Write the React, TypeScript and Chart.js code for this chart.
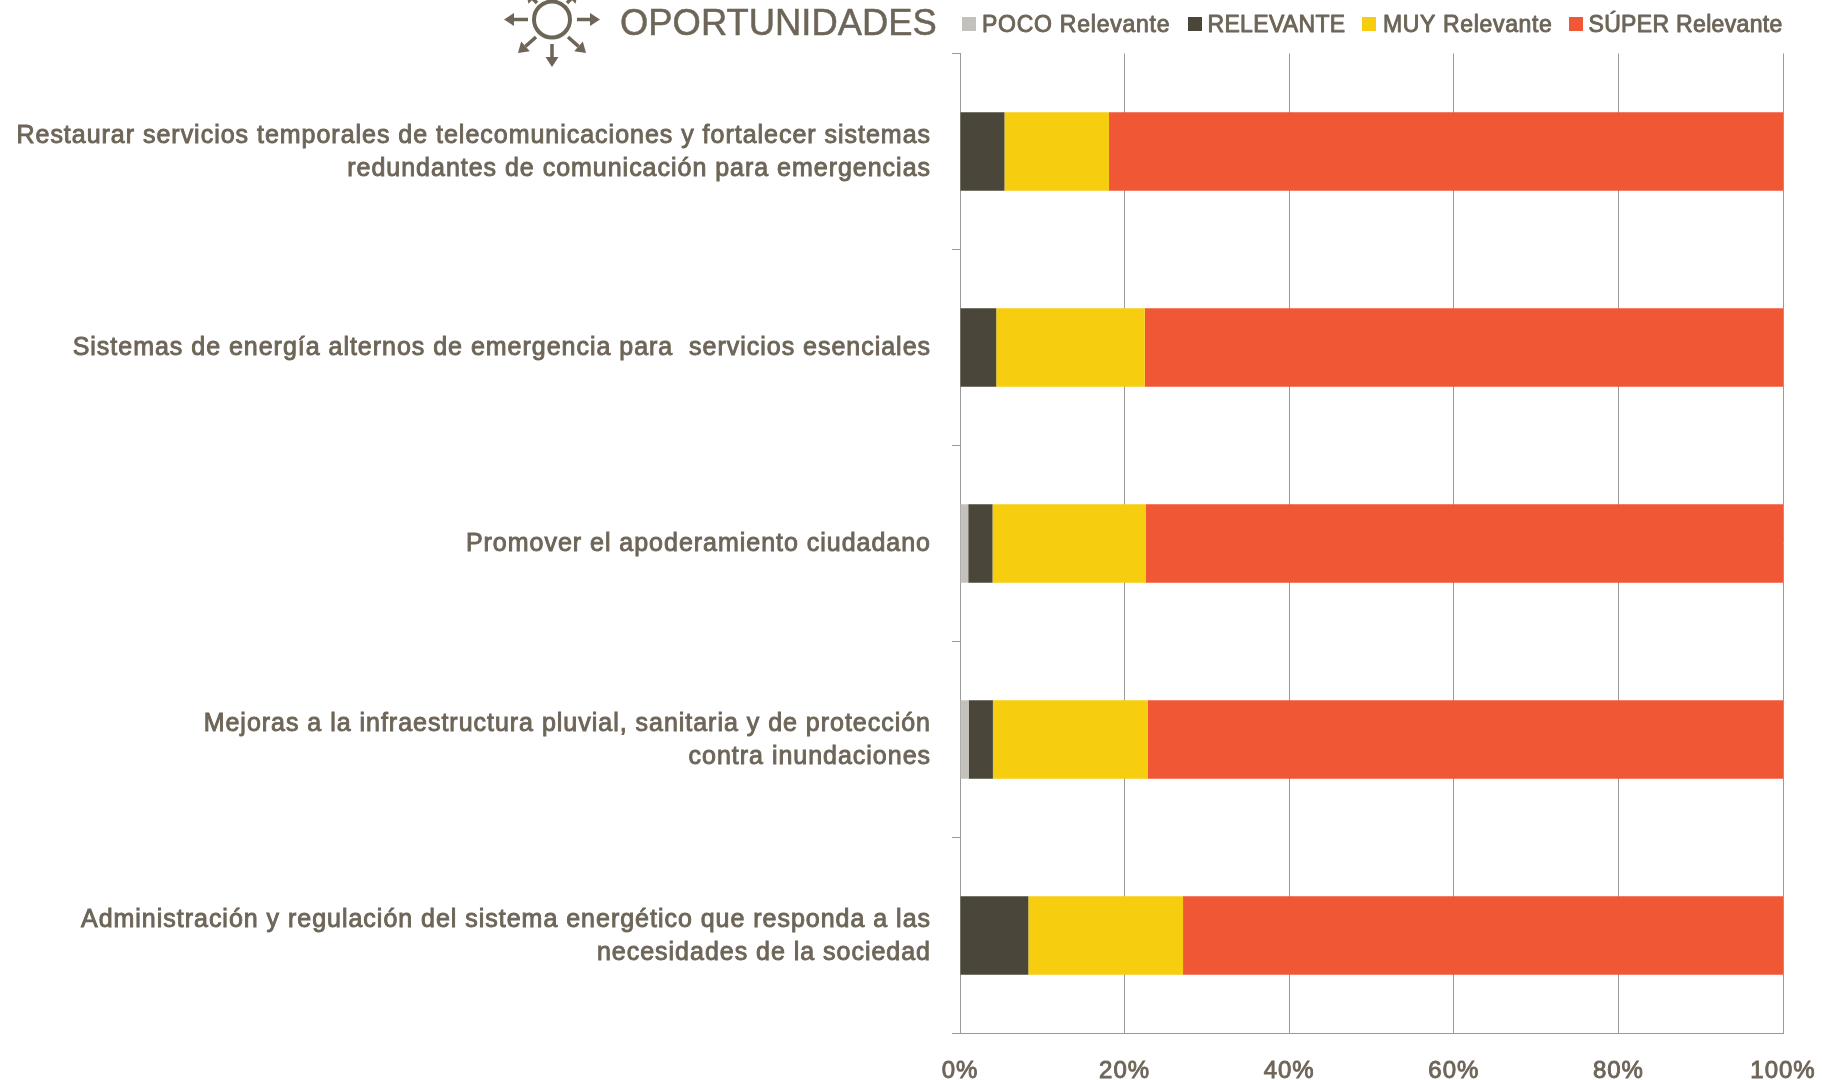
import React, { useEffect, useRef } from "react";
import { Chart, registerables } from "chart.js";

Chart.register(...registerables);

const categories = [
  ["Restaurar servicios temporales de telecomunicaciones y fortalecer sistemas", "redundantes de comunicación para emergencias"],
  ["Sistemas de energía alternos de emergencia para  servicios esenciales"],
  ["Promover el apoderamiento ciudadano"],
  ["Mejoras a la infraestructura pluvial, sanitaria y de protección", "contra inundaciones"],
  ["Administración y regulación del sistema energético que responda a las", "necesidades de la sociedad"],
];
const poco = [0, 0, 1.0, 1.05, 0];
const relevante = [5.4, 4.4, 2.95, 2.95, 8.3];
const muy = [12.7, 18.05, 18.6, 18.8, 18.8];
const super_ = [81.9, 77.55, 77.45, 77.2, 72.9];
const xTicks = [0, 20, 40, 60, 80, 100];
const seriesLabels = ["POCO Relevante", "RELEVANTE", "MUY Relevante", "SÚPER Relevante"];
const seriesColors = ["#c4c1bc", "#4a4639", "#f6cd0f", "#f05735"];
const titleText = "OPORTUNIDADES";

const TEXT = "#6d6558";
const GRID = "#9a9a9a";
const FONT = "'Liberation Sans'";

const legendBoxX = [962, 1188, 1362, 1569];
const legendTextX = [982, 1207.5, 1383, 1588.5];
const legendSpacing = [0.75, 0.33, 0.65, 0.33];

function arrow(ctx: CanvasRenderingContext2D, x0: number, y0: number, x1: number, y1: number) {
  const a = Math.atan2(y1 - y0, x1 - x0);
  const len = 10, w = 6.5;
  const bx = x1 - Math.cos(a) * len, by = y1 - Math.sin(a) * len;
  ctx.beginPath();
  ctx.moveTo(x0, y0);
  ctx.lineTo(bx, by);
  ctx.stroke();
  ctx.beginPath();
  ctx.moveTo(x1, y1);
  ctx.lineTo(bx - Math.sin(a) * w, by + Math.cos(a) * w);
  ctx.lineTo(bx + Math.sin(a) * w, by - Math.cos(a) * w);
  ctx.closePath();
  ctx.fill();
}

const spacingPlugin = {
  id: "spacing",
  beforeDraw(chart: any) {
    chart.ctx.letterSpacing = "0.98px";
  },
};

const headerPlugin = {
  id: "header",
  afterDraw(chart: any) {
    const ctx: CanvasRenderingContext2D = chart.ctx;
    ctx.save();
    ctx.letterSpacing = "0px";
    ctx.fillStyle = TEXT;
    ctx.strokeStyle = TEXT;
    ctx.textBaseline = "middle";
    ctx.textAlign = "left";
    ctx.lineJoin = "round";
    ctx.font = `36.4px ${FONT}`;
    ctx.lineWidth = 0.5;
    ctx.fillText(titleText, 620, 24.5);
    ctx.strokeText(titleText, 620, 24.5);

    ctx.lineWidth = 4;
    ctx.beginPath();
    ctx.arc(552, 19.5, 18, 0, Math.PI * 2);
    ctx.stroke();
    ctx.lineWidth = 3.5;
    arrow(ctx, 528, 19.5, 504, 19.5);
    arrow(ctx, 577, 19.5, 600, 19.5);
    arrow(ctx, 552, 44, 552, 67);
    arrow(ctx, 536, 37, 518, 53);
    arrow(ctx, 568, 37, 586, 53);
    arrow(ctx, 537, 3, 526, -8);
    arrow(ctx, 567, 3, 578, -8);

    ctx.font = `23px ${FONT}`;
    ctx.lineWidth = 0.9;
    seriesLabels.forEach((label, i) => {
      ctx.letterSpacing = `${legendSpacing[i]}px`;
      ctx.fillStyle = seriesColors[i];
      ctx.fillRect(legendBoxX[i], 17, 14, 14);
      ctx.fillStyle = TEXT;
      ctx.fillText(label, legendTextX[i], 26);
      ctx.strokeText(label, legendTextX[i], 26);
    });
    ctx.restore();
  },
};

export default function App() {
  const ref = useRef<HTMLCanvasElement>(null);
  useEffect(() => {
    const datasets = [poco, relevante, muy, super_].map((data, i) => ({
      label: seriesLabels[i],
      data,
      backgroundColor: seriesColors[i],
      barPercentage: 0.4,
      categoryPercentage: 1,
    }));
    const chart = new Chart(ref.current!, {
      type: "bar",
      data: { labels: categories as any, datasets },
      plugins: [spacingPlugin, headerPlugin],
      options: {
        indexAxis: "y",
        animation: false,
        responsive: false,
        layout: { padding: { top: 53.5, right: 39, left: 0, bottom: 0 } },
        plugins: { legend: { display: false }, title: { display: false }, tooltip: { enabled: false } },
        scales: {
          x: {
            stacked: true,
            min: 0,
            max: 100,
            afterFit(scale: any) {
              scale.height = 46.5;
              scale.paddingLeft = 0;
              scale.paddingRight = 0;
            },
            afterBuildTicks(scale: any) { scale.ticks = xTicks.map((value) => ({ value })); },
            grid: { color: GRID, lineWidth: 1, drawTicks: false },
            border: { color: GRID, width: 1 },
            ticks: {
              color: TEXT,
              padding: 23,
              maxRotation: 0,
              textStrokeColor: TEXT,
              textStrokeWidth: 0.9,
              font: { family: FONT, size: 24 },
              callback: (v: any) => `${v}%`,
            },
          },
          y: {
            stacked: true,
            afterFit(scale: any) {
              scale.width = 960;
              scale.paddingTop = 0;
              scale.paddingBottom = 0;
            },
            grid: { color: GRID, lineWidth: 1, drawOnChartArea: false, tickLength: 8, offset: true },
            border: { color: GRID, width: 1 },
            ticks: {
              color: TEXT,
              padding: 21,
              labelOffset: 1,
              autoSkip: false,
              textStrokeColor: TEXT,
              textStrokeWidth: 0.9,
              font: { family: FONT, size: 25, lineHeight: "32.5px" },
            },
          },
        },
      },
    } as any);
    return () => chart.destroy();
  }, []);
  return (
    <div style={{ position: "absolute", left: 0, top: 0, width: 1822, height: 1080, background: "#fff" }}>
      <canvas ref={ref} width={1822} height={1080} style={{ display: "block" }} />
    </div>
  );
}
